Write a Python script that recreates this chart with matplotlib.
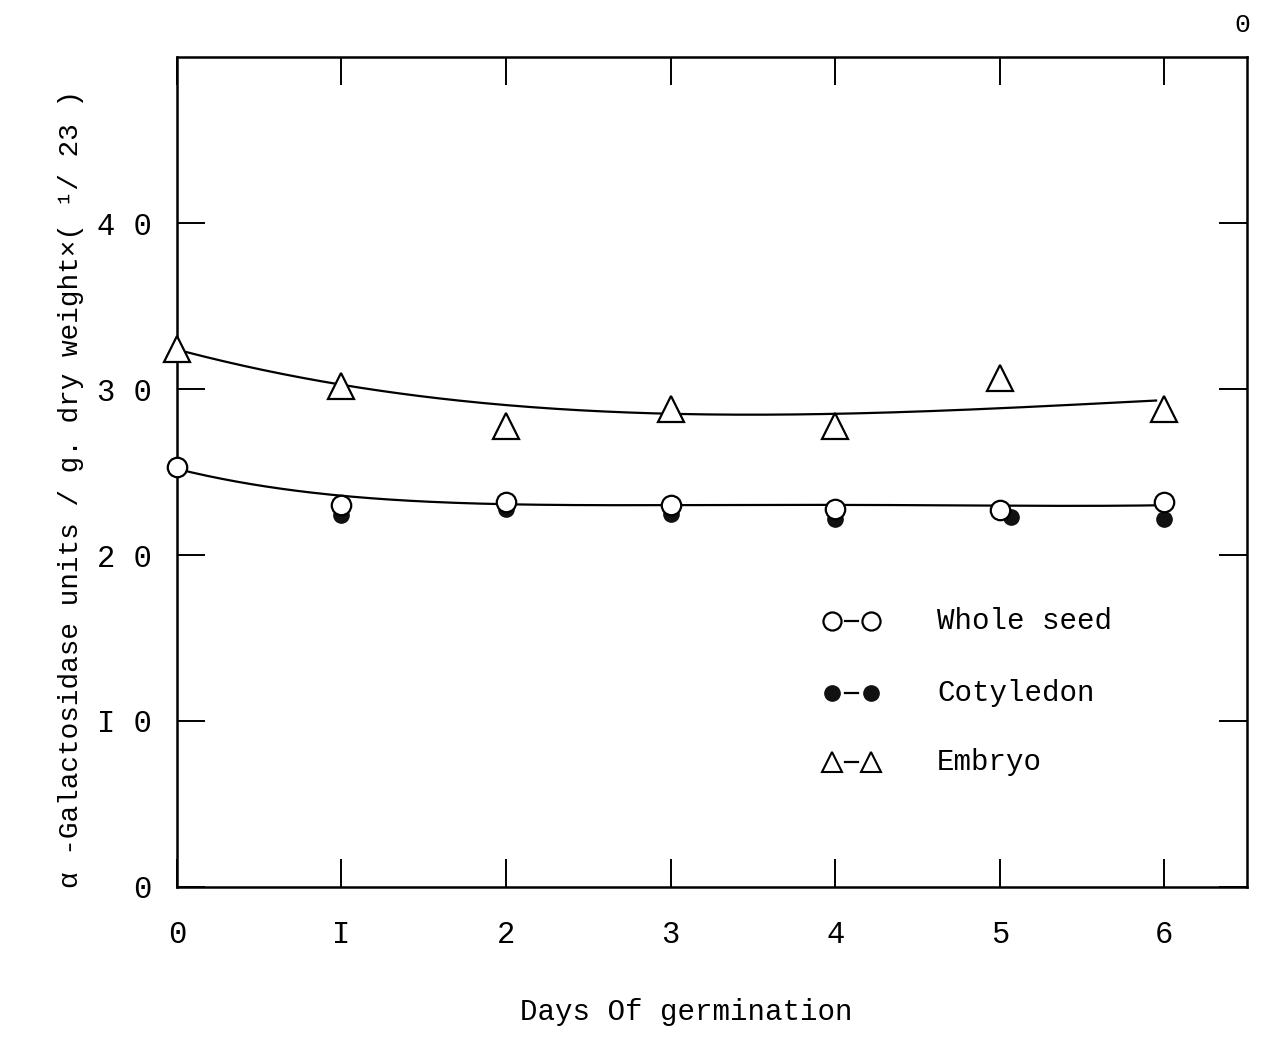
import matplotlib
matplotlib.use("Agg")
import matplotlib.pyplot as plt
import numpy as np

plt.rcParams['font.family'] = ['Liberation Mono', 'DejaVu Sans Mono']

# alpha-galactosidase activity by day of germination
days = [0, 1, 2, 3, 4, 5, 6]
whole_seed = [25.3, 23.0, 23.2, 23.0, 22.8, 22.7, 23.2]
cotyledon = [25.2, 22.4, 22.8, 22.5, 22.2, 22.3, 22.2]
cotyledon_days = [0, 1, 2, 3, 4, 5.07, 6]
embryo = [32.4, 30.2, 27.8, 28.8, 27.8, 30.7, 28.8]

# hand-drawn trend lines, read at each day
embryo_trend = [32.3, 30.5, 28.9, 28.4, 28.6, 28.9, 29.3]
seed_trend = [25.2, 23.55, 23.1, 23.0, 23.0, 23.0, 23.0]

xtick_labels = ['0', 'I', '2', '3', '4', '5', '6']
ytick_vals = [0, 10, 20, 30, 40]
ytick_labels = ['0', 'I 0', '2 0', '3 0', '4 0']

fig = plt.figure(figsize=(12.63, 10.41), dpi=100)
ax = fig.add_axes([0.140, 0.148, 0.847, 0.797])

# smooth trend curves
xs = np.linspace(0.05, 5.95, 200)
ax.plot(xs, np.polyval(np.polyfit(days, embryo_trend, 3), xs), color='black', lw=1.6, zorder=2)
xs2 = np.linspace(0.0, 6.0, 200)
ax.plot(xs2, np.polyval(np.polyfit(days, seed_trend, 4), xs2), color='black', lw=1.6, zorder=2)

ax.plot(cotyledon_days, cotyledon, 'o', color='#111111', ms=11, zorder=3, clip_on=False)
ax.plot(days, whole_seed, 'o', mfc='white', mec='black', mew=1.6, ms=14, zorder=4, clip_on=False)
ax.plot(days, embryo, '^', mfc='white', mec='black', mew=1.6, ms=19, zorder=4, clip_on=False)

ax.set_xlim(0, 6.5)
ax.set_ylim(0, 50)
ax.set_xticks(days)
ax.set_xticklabels(xtick_labels)
ax.set_yticks(ytick_vals)
ax.set_yticklabels(ytick_labels)
ax.tick_params(axis='both', direction='in', length=20, width=1.4, labelsize=22,
               top=True, right=True)
ax.tick_params(axis='x', pad=24)
ax.tick_params(axis='y', pad=18)
for sp in ax.spines.values():
    sp.set_linewidth(1.8)

# legend drawn by hand
legend_rows = [
    (16.0, dict(marker='o', mfc='white', mec='black', mew=1.6, ms=13), 'Whole seed'),
    (11.7, dict(marker='o', mfc='#111111', mec='#111111', ms=11), 'Cotyledon'),
    (7.5, dict(marker='^', mfc='white', mec='black', mew=1.5, ms=14), 'Embryo'),
]
for y, style, name in legend_rows:
    ax.plot([3.98], [y], ls='none', **style)
    ax.plot([4.22], [y], ls='none', **style)
    ax.plot([4.06, 4.14], [y, y], color='black', lw=1.6)
    ax.text(4.62, y, name, fontsize=21, va='center', ha='left')

fig.text(0.543, 0.028, 'Days Of germination', fontsize=21, ha='center', va='center')
fig.text(0.056, 0.53, 'α -Galactosidase units / g. dry weight×( ¹/ 23 )',
         rotation=90, fontsize=20, ha='center', va='center')
fig.text(0.984, 0.976, '0', fontsize=19, ha='center', va='center')

fig.savefig('out.png', dpi=100, facecolor='white')
